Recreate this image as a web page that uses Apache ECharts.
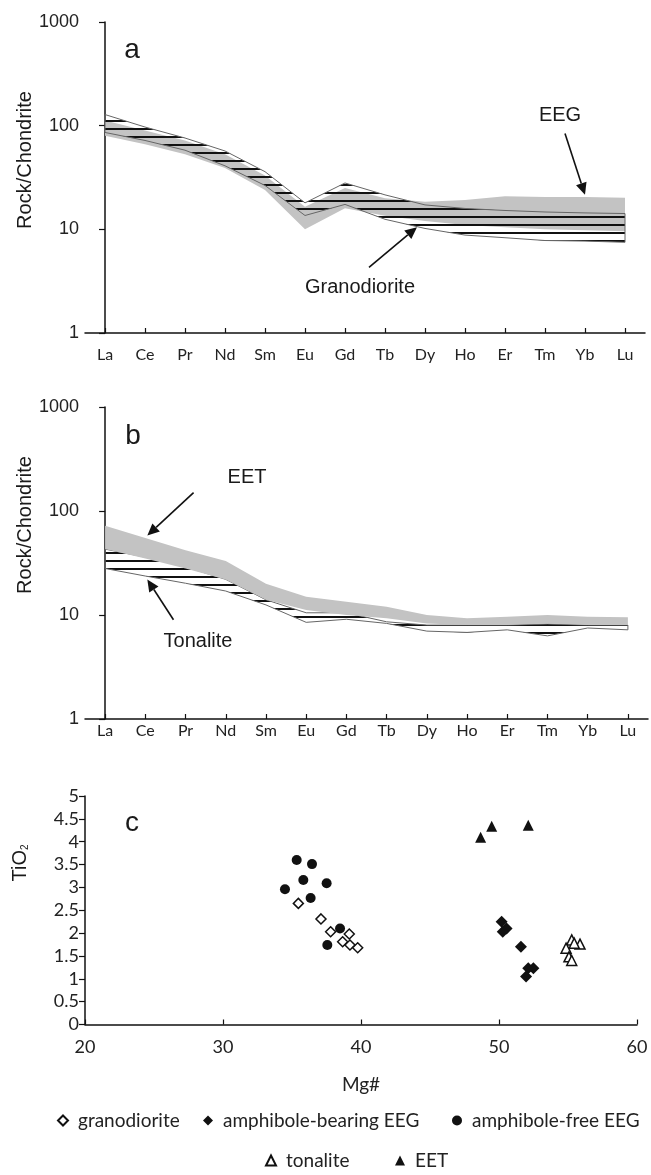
<!DOCTYPE html>
<html><head><meta charset="utf-8">
<script src="https://cdn.jsdelivr.net/npm/echarts@6/dist/echarts.min.js"></script>
<style>html,body{margin:0;padding:0;background:#fff}#c{width:651px;height:1175px}</style>
</head><body><div id="c"></div>
<script>
// ---- data ----
const ree = ['La','Ce','Pr','Nd','Sm','Eu','Gd','Tb','Dy','Ho','Er','Tm','Yb','Lu'];
const granoUpper = [128, 97, 76, 57, 36, 18, 28, 21.5, 17.2, 15.9, 15.2, 14.7, 14.4, 14.2];
const granoLower = [86, 72, 58, 41, 26.5, 13.6, 17.4, 12.5, 10.2, 8.8, 8.3, 7.8, 7.7, 7.5];
const eegUpper = [112, 90, 72, 53, 33, 16.5, 25, 20, 18.5, 19.2, 20.8, 20.5, 20.5, 20.2];
const eegLower = [80, 66, 53, 39, 24, 10, 16, 13.5, 12, 11, 10.5, 10, 9.8, 9.6];
const tonUpper = [43, 36, 29, 22, 14, 10.5, 10.5, 8.6, 8.0, 8.0, 8.0, 8.2, 8.0, 8.0];
const tonLower = [28, 23.7, 20.2, 17, 12.5, 8.5, 9.1, 8.3, 7.0, 6.8, 7.2, 6.3, 7.5, 7.2];
const eetUpper = [72, 55, 42, 33, 20, 15, 13.4, 12, 10, 9.3, 9.6, 10, 9.6, 9.5];
const eetLower = [43, 35, 28, 22, 14, 11.2, 10, 9.3, 8.3, 8.0, 8.0, 8.3, 8.0, 8.0];

const granodiorite = [[35.46,2.65],[37.10,2.31],[37.8,2.03],[39.15,1.98],[38.67,1.81],[39.2,1.74],[39.76,1.68]];
const amphBearing = [[50.19,2.25],[50.55,2.10],[50.27,2.03],[51.59,1.70],[52.12,1.23],[51.96,1.05],[52.49,1.23]];
const amphFree = [[35.34,3.60],[36.45,3.51],[35.82,3.16],[34.49,2.96],[36.35,2.77],[37.51,3.09],[38.48,2.10],[37.56,1.74]];
const tonalite = [[55.27,1.85],[55.87,1.76],[54.86,1.67],[55.07,1.48],[55.27,1.40],[55.45,1.78]];
const eet = [[48.67,4.10],[49.47,4.34],[52.12,4.36]];

// annotation arrows (data coordinates: [element index, value])
const arrowsA = [[[11.5, 84],[12.0, 21.5]], [[6.6, 4.3],[7.8, 10.5]]];
const arrowsB = [[[2.2, 150],[1.05, 58]], [[1.7, 9.0],[1.05, 22]]];

// ---- styles ----
const hatch = document.createElement('canvas');
hatch.width = 8; hatch.height = 8;
(function(){const g = hatch.getContext('2d'); g.fillStyle = '#111'; g.fillRect(0,0,8,2);})();
const hatchFill = {image: hatch, repeat: 'repeat'};
const GRAY = '#c3c3c3';
const idx = ree.map((_, i) => i);

function band(name, up, lo, gi, fill, stroke, z) {
  return {
    type: 'custom', name: name, xAxisIndex: gi, yAxisIndex: gi, z: z, silent: true,
    data: [[0, up[0]]],
    renderItem: function (params, api) {
      const pts = up.map((v, i) => api.coord([i, v]))
        .concat(lo.map((v, i) => api.coord([i, v])).reverse());
      return {type: 'polygon', shape: {points: pts},
        style: {fill: fill, stroke: stroke, lineWidth: stroke === 'none' ? 0 : 1}};
    }
  };
}

function reeX(gi, labelMargin) {
  return {
    type: 'value', gridIndex: gi, min: -0.5, max: 13.5,
    axisLine: {show: true, lineStyle: {color: '#111', width: 1.5}},
    axisTick: {show: true, inside: true, length: 5, customValues: idx, lineStyle: {color: '#111', width: 1.2}},
    axisLabel: {show: true, customValues: idx, formatter: v => ree[Math.round(v)] || '', margin: labelMargin,
      fontFamily: 'Lato', fontSize: 16, color: '#222'},
    splitLine: {show: false}
  };
}
function logY(gi) {
  return {
    type: 'log', logBase: 10, gridIndex: gi, min: 1, max: 1000,
    axisLine: {show: true, lineStyle: {color: '#111', width: 1.5}},
    axisTick: {show: true, length: 6, lineStyle: {color: '#111', width: 1.2}},
    axisLabel: {fontFamily: 'Liberation Sans', fontSize: 18, color: '#222', margin: 6,
      formatter: v => String(Math.round(v))},
    splitLine: {show: false}, minorTick: {show: false}
  };
}

const openStyle = {color: '#fff', borderColor: '#111', borderWidth: 1.5, opacity: 1};
const fillStyle = {color: '#111', opacity: 1};

function leg(name, left, top) {
  return {left: left, top: top, itemWidth: 10, itemHeight: 10, selectedMode: false,
    textStyle: {fontFamily: 'Lato', fontSize: 19, color: '#222', padding: [0, 0, 0, 5]}, data: [name]};
}

const option = {
  animation: false,
  backgroundColor: '#fff',
  grid: [
    {left: 85, top: 22, width: 560, height: 311},
    {left: 85, top: 407, width: 563, height: 312},
    {left: 85, top: 796, width: 552, height: 228.5}
  ],
  xAxis: [
    reeX(0, 14),
    reeX(1, 4),
    {type: 'value', gridIndex: 2, min: 20, max: 60, interval: 10,
      axisLine: {show: true, lineStyle: {color: '#111', width: 1.5}},
      axisTick: {show: true, inside: true, length: 5, lineStyle: {color: '#111', width: 1.2}},
      axisLabel: {fontFamily: 'Lato', fontSize: 18, color: '#222', margin: 14},
      splitLine: {show: false},
      name: 'Mg#', nameLocation: 'middle', nameGap: 51,
      nameTextStyle: {fontFamily: 'Lato', fontSize: 19, color: '#222'}}
  ],
  yAxis: [
    logY(0), logY(1),
    {type: 'value', gridIndex: 2, min: 0, max: 5, interval: 0.5,
      axisLine: {show: true, lineStyle: {color: '#111', width: 1.5}},
      axisTick: {show: true, length: 6, lineStyle: {color: '#111', width: 1.2}},
      axisLabel: {fontFamily: 'Lato', fontSize: 18, color: '#222', margin: 6},
      splitLine: {show: false}}
  ],
  legend: [
    leg('granodiorite', 52, 1106),
    leg('amphibole-bearing EEG', 198, 1106),
    leg('amphibole-free EEG', 447, 1106),
    leg('tonalite', 260, 1146),
    leg('EET', 390, 1146)
  ],
  series: [
    band('band-EEG', eegUpper, eegLower, 0, GRAY, 'none', 1),
    band('band-Granodiorite', granoUpper, granoLower, 0, hatchFill, '#666', 2),
    band('band-Tonalite', tonUpper, tonLower, 1, hatchFill, '#666', 1),
    band('band-EET', eetUpper, eetLower, 1, GRAY, 'none', 2),
    {type: 'scatter', name: 'granodiorite', xAxisIndex: 2, yAxisIndex: 2, symbol: 'diamond', symbolSize: 10,
      itemStyle: openStyle, data: granodiorite, z: 5},
    {type: 'scatter', name: 'amphibole-bearing EEG', xAxisIndex: 2, yAxisIndex: 2, symbol: 'diamond', symbolSize: 12,
      itemStyle: fillStyle, data: amphBearing},
    {type: 'scatter', name: 'amphibole-free EEG', xAxisIndex: 2, yAxisIndex: 2, symbol: 'circle', symbolSize: 10,
      itemStyle: fillStyle, data: amphFree},
    {type: 'scatter', name: 'tonalite', xAxisIndex: 2, yAxisIndex: 2, symbol: 'triangle', symbolSize: 10,
      itemStyle: openStyle, data: tonalite, z: 5},
    {type: 'scatter', name: 'EET', xAxisIndex: 2, yAxisIndex: 2, symbol: 'triangle', symbolSize: 11,
      itemStyle: fillStyle, data: eet}
  ]
};

const chart = echarts.init(document.getElementById('c'), null, {renderer: 'canvas'});
chart.setOption(option);

// ---- annotations ----
function arrow(gi, a) {
  const p0 = chart.convertToPixel({gridIndex: gi}, a[0]);
  const p1 = chart.convertToPixel({gridIndex: gi}, a[1]);
  const dx = p1[0] - p0[0], dy = p1[1] - p0[1];
  const L = Math.sqrt(dx * dx + dy * dy), ux = dx / L, uy = dy / L;
  const hl = 12, hw = 5.5;
  const bx = p1[0] - ux * hl, by = p1[1] - uy * hl;
  return [
    {type: 'line', shape: {x1: p0[0], y1: p0[1], x2: bx, y2: by}, style: {stroke: '#111', lineWidth: 1.6}, z: 20},
    {type: 'polygon', shape: {points: [p1, [bx - uy * hw, by + ux * hw], [bx + uy * hw, by - ux * hw]]},
      style: {fill: '#111'}, z: 20}
  ];
}
function txt(x, y, text, font, rot) {
  return {type: 'text', x: x, y: y, rotation: rot || 0, z: 20,
    style: {text: text, font: font, fill: '#1a1a1a', align: 'center', verticalAlign: 'middle'}};
}
const ARIAL = '"Liberation Sans", Arial, sans-serif';
let g = [];
arrowsA.forEach(a => { g = g.concat(arrow(0, a)); });
arrowsB.forEach(a => { g = g.concat(arrow(1, a)); });
g.push(txt(132, 50, 'a', '28px ' + ARIAL));
g.push(txt(133, 436, 'b', '28px ' + ARIAL));
g.push(txt(132, 823, 'c', '28px ' + ARIAL));
g.push(txt(560, 115, 'EEG', '20px ' + ARIAL));
g.push(txt(360, 287, 'Granodiorite', '20px ' + ARIAL));
g.push(txt(247, 477, 'EET', '20px ' + ARIAL));
g.push(txt(198, 641, 'Tonalite', '20px ' + ARIAL));
g.push(txt(25, 160, 'Rock/Chondrite', '20px ' + ARIAL, Math.PI / 2));
g.push(txt(25, 525, 'Rock/Chondrite', '20px ' + ARIAL, Math.PI / 2));
g.push({type: 'text', x: 20, y: 863, rotation: Math.PI / 2, z: 20,
  style: {text: '{m|TiO}{s|2}', align: 'center', verticalAlign: 'middle', fill: '#1a1a1a',
    rich: {m: {font: '20px ' + ARIAL, fill: '#1a1a1a'}, s: {font: '10px ' + ARIAL, fill: '#1a1a1a', padding: [10, 0, 0, 0]}}}});
chart.setOption({graphic: g});
</script>
</body></html>
